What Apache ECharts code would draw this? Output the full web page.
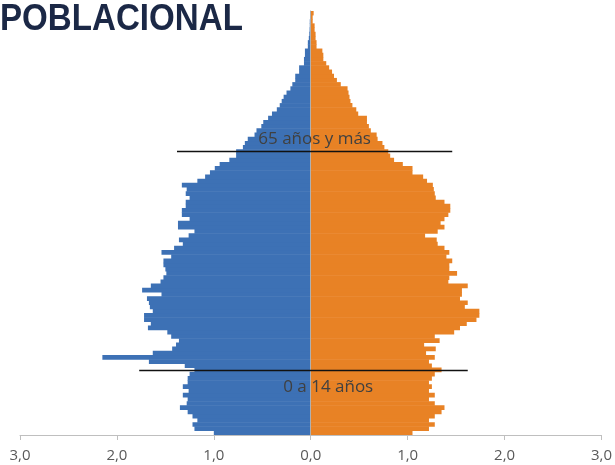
<!DOCTYPE html>
<html><head><meta charset="utf-8">
<script src="https://cdn.jsdelivr.net/npm/echarts@6/dist/echarts.min.js"></script>
<style>html,body{margin:0;padding:0;background:#fff}#c{width:615px;height:465px}</style>
</head><body><div id="c"></div>
<script>
// Age categories 0..100 (bottom to top)
const ages = [];
for (let a = 0; a <= 100; a++) ages.push(String(a));

// Percent of population, men (left, blue)
const hombres = [
 1.00,1.20,1.22,1.17,1.22,1.27,1.35,1.28,1.27,1.32,
 1.26,1.32,1.27,1.27,1.25,1.20,1.30,1.67,2.15,1.63,
 1.43,1.39,1.36,1.44,1.48,1.68,1.65,1.72,1.72,1.63,
 1.66,1.67,1.69,1.54,1.74,1.65,1.55,1.52,1.49,1.50,
 1.52,1.52,1.44,1.54,1.41,1.32,1.36,1.26,1.20,1.37,
 1.37,1.25,1.33,1.33,1.29,1.29,1.25,1.29,1.28,1.33,
 1.17,1.09,1.04,0.99,0.94,0.84,0.77,0.77,0.70,0.68,
 0.65,0.58,0.56,0.51,0.49,0.44,0.40,0.35,0.32,0.30,
 0.28,0.25,0.21,0.19,0.16,0.16,0.12,0.12,0.07,0.07,
 0.06,0.06,0.03,0.03,0.02,0.015,0.012,0.01,0.01,0.005,
 0.005
];
// Percent of population, women (right, orange)
const mujeres = [
 1.05,1.22,1.28,1.22,1.28,1.35,1.38,1.28,1.22,1.28,
 1.22,1.25,1.22,1.25,1.28,1.35,1.25,1.22,1.28,1.19,
 1.29,1.17,1.33,1.28,1.48,1.54,1.61,1.71,1.74,1.74,
 1.59,1.62,1.54,1.56,1.56,1.62,1.42,1.43,1.51,1.43,
 1.43,1.46,1.40,1.43,1.38,1.31,1.30,1.18,1.31,1.38,
 1.34,1.38,1.42,1.44,1.44,1.38,1.29,1.28,1.27,1.26,
 1.20,1.16,1.05,1.05,0.95,0.86,0.82,0.80,0.76,0.74,
 0.69,0.68,0.62,0.60,0.58,0.58,0.49,0.47,0.43,0.41,
 0.40,0.39,0.38,0.31,0.27,0.24,0.22,0.19,0.16,0.13,
 0.13,0.12,0.06,0.06,0.05,0.05,0.04,0.04,0.02,0.02,
 0.03
];

const xTickLabels = ['3,0','2,0','1,0','0,0','1,0','2,0','3,0'];
const groupLabels = ['65 años y más', '0 a 14 años'];

const chart = echarts.init(document.getElementById('c'), null, {renderer: 'canvas'});
chart.setOption({
  animation: false,
  backgroundColor: '#ffffff',
  graphic: [{
    type: 'text', left: 0, top: 2, scaleX: 0.92,
    style: {
      text: 'POBLACIONAL', fill: '#1b2846',
      font: 'bold 36px "Liberation Sans", Arial, sans-serif'
    }
  }],
  grid: {left: 20, right: 13, top: 11, bottom: 30, containLabel: false},
  xAxis: {
    type: 'value', min: -3, max: 3, interval: 1,
    axisLine: {show: true, lineStyle: {color: '#bfbfbf', width: 1}},
    axisTick: {show: true, length: 5, lineStyle: {color: '#bfbfbf'}},
    splitLine: {show: false},
    axisLabel: {
      margin: 13, color: '#595959', fontSize: 15, fontFamily: 'Open Sans',
      formatter: v => xTickLabels[Math.round(v) + 3]
    }
  },
  yAxis: {
    type: 'category', data: ages, z: 3,
    axisLine: {show: true, lineStyle: {color: '#b0b0b0', width: 1}},
    axisTick: {show: false}, axisLabel: {show: false}, splitLine: {show: false}
  },
  series: [
    {
      name: 'Hombres', type: 'bar', barGap: '-100%', barWidth: '112%',
      itemStyle: {color: '#3d71b5'},
      data: hombres.map(v => -v)
    },
    {
      name: 'Mujeres', type: 'bar', barGap: '-100%', barWidth: '112%',
      itemStyle: {color: '#e88225'},
      data: mujeres,
      markLine: {
        silent: true, symbol: ['none', 'none'],
        lineStyle: {color: '#111111', width: 1.3, type: 'solid'},
        label: {show: false},
        data: [
          [{coord: [-1.38, '67']}, {coord: [1.46, '67']}],
          [{coord: [-1.77, '15']}, {coord: [1.62, '15']}]
        ]
      },
      markPoint: {
        silent: true, symbol: 'rect', symbolSize: 1,
        itemStyle: {color: 'rgba(0,0,0,0)'},
        label: {show: true, position: 'inside', color: '#404040', fontSize: 17, fontFamily: 'Open Sans'},
        data: [
          {coord: [0.04, '70'], label: {formatter: groupLabels[0]}},
          {coord: [0.18, '11'], label: {formatter: groupLabels[1]}}
        ]
      }
    }
  ]
});
</script></body></html>
